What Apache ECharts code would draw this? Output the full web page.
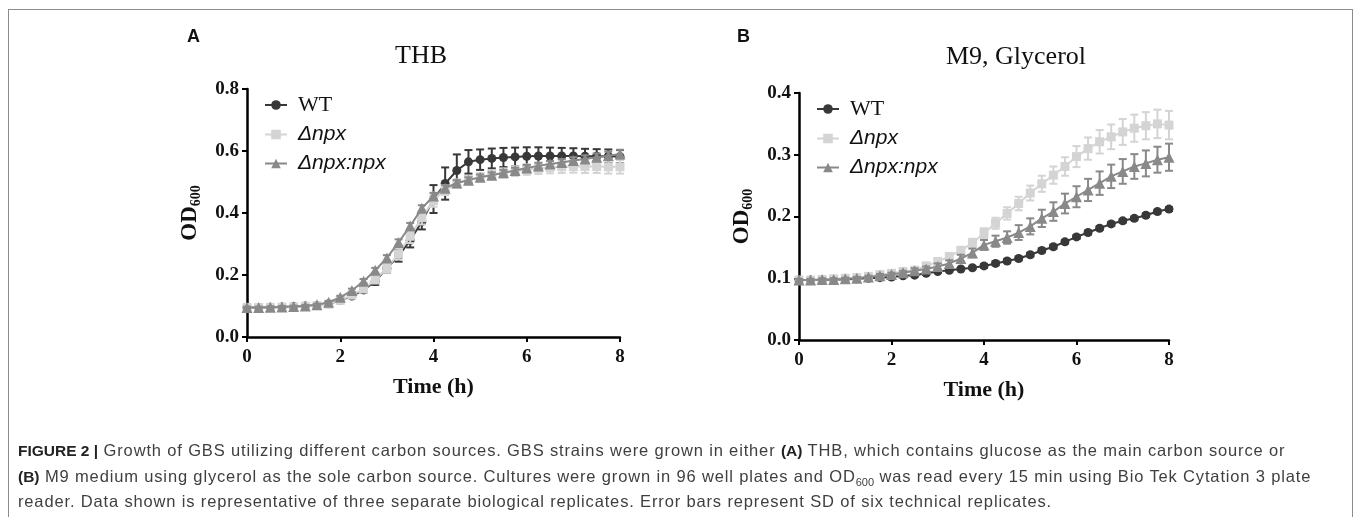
<!DOCTYPE html>
<html>
<head>
<meta charset="utf-8">
<title>Figure 2</title>
<script src="https://cdn.jsdelivr.net/npm/echarts@6/dist/echarts.min.js"></script>
<style>
    body{margin:0;background:#fff;}
    #wrap{position:relative;width:1358px;height:517px;overflow:hidden;}
    #frame{position:absolute;left:8px;top:9px;width:1345px;height:600px;border:1px solid #8c8c8c;box-sizing:border-box;}
    #chart{position:absolute;left:0;top:0;width:1358px;height:517px;}
    #caption{position:absolute;left:18px;top:438px;font-family:"Liberation Sans",Arial,sans-serif;font-size:16.5px;letter-spacing:0.85px;line-height:24.5px;color:#3f3f3f;white-space:nowrap;}
    #caption b{color:#222;font-size:15.5px;letter-spacing:0;}
    #caption sub{font-size:11px;line-height:0;letter-spacing:0;}
</style>
</head>
<body>
<div id="wrap">
    <div id="frame"></div>
    <div id="chart"></div>
    <div id="caption">
        <b>FIGURE 2 |</b> Growth of GBS utilizing different carbon sources. GBS strains were grown in either <b>(A)</b> THB, which contains glucose as the main carbon source or<br>
        <b>(B)</b> M9 medium using glycerol as the sole carbon source. Cultures were grown in 96 well plates and OD<sub>600</sub> was read every 15 min using Bio Tek Cytation 3 plate<br>
        reader. Data shown is representative of three separate biological replicates. Error bars represent SD of six technical replicates.
    </div>
</div>
<script>
// time points (h), read every 15 min
var times=[0,0.25,0.5,0.75,1,1.25,1.5,1.75,2,2.25,2.5,2.75,3,3.25,3.5,3.75,4,4.25,4.5,4.75,5,5.25,5.5,5.75,6,6.25,6.5,6.75,7,7.25,7.5,7.75,8];
var seriesNames=['WT','\u0394npx','\u0394npx:npx'];
var xTicks=[0,2,4,6,8];
var yTicksA=[0,0.2,0.4,0.6,0.8];
var yTicksB=[0,0.1,0.2,0.3,0.4];

// A - THB
var thbWT=[0.095,0.095,0.096,0.097,0.098,0.100,0.102,0.107,0.118,0.132,0.152,0.180,0.222,0.262,0.312,0.372,0.445,0.495,0.537,0.565,0.572,0.576,0.579,0.581,0.583,0.584,0.584,0.584,0.584,0.583,0.583,0.583,0.582];
var thbWTsd=[0.003,0.003,0.003,0.003,0.003,0.003,0.003,0.004,0.005,0.006,0.008,0.012,0.015,0.019,0.023,0.025,0.045,0.052,0.052,0.038,0.033,0.032,0.031,0.030,0.029,0.028,0.027,0.026,0.025,0.024,0.023,0.022,0.021];
var thbDel=[0.095,0.095,0.095,0.096,0.097,0.099,0.101,0.106,0.118,0.135,0.155,0.185,0.222,0.268,0.325,0.385,0.440,0.474,0.495,0.507,0.516,0.523,0.529,0.535,0.540,0.544,0.547,0.549,0.550,0.550,0.550,0.549,0.549];
var thbDelsd=[0.003,0.003,0.003,0.003,0.003,0.003,0.003,0.004,0.005,0.007,0.009,0.012,0.015,0.018,0.022,0.022,0.020,0.016,0.014,0.013,0.013,0.014,0.015,0.016,0.017,0.018,0.019,0.020,0.020,0.021,0.021,0.022,0.022];
var thbComp=[0.095,0.095,0.096,0.097,0.098,0.100,0.104,0.112,0.128,0.150,0.180,0.215,0.255,0.305,0.358,0.415,0.455,0.480,0.497,0.506,0.515,0.522,0.530,0.537,0.545,0.552,0.558,0.563,0.569,0.574,0.580,0.585,0.590];
var thbCompsd=[0.003,0.003,0.003,0.003,0.003,0.003,0.003,0.004,0.005,0.006,0.007,0.008,0.009,0.010,0.010,0.010,0.010,0.010,0.009,0.009,0.009,0.009,0.009,0.009,0.010,0.010,0.010,0.011,0.011,0.012,0.012,0.013,0.014];

// B - M9, Glycerol
var m9WT=[0.097,0.097,0.097,0.098,0.098,0.099,0.100,0.101,0.102,0.104,0.105,0.108,0.111,0.113,0.115,0.117,0.120,0.124,0.128,0.132,0.138,0.145,0.151,0.159,0.167,0.174,0.181,0.188,0.193,0.197,0.202,0.208,0.212];
var m9WTsd=[0.002,0.002,0.002,0.002,0.002,0.002,0.002,0.002,0.002,0.002,0.002,0.002,0.002,0.002,0.002,0.002,0.003,0.003,0.003,0.003,0.003,0.003,0.003,0.003,0.003,0.003,0.003,0.003,0.003,0.003,0.003,0.003,0.003];
var m9Del=[0.097,0.097,0.098,0.099,0.100,0.101,0.103,0.106,0.108,0.111,0.113,0.120,0.127,0.135,0.145,0.157,0.173,0.189,0.205,0.221,0.238,0.253,0.267,0.281,0.297,0.310,0.321,0.329,0.337,0.343,0.347,0.350,0.348];
var m9Delsd=[0.003,0.003,0.003,0.003,0.003,0.003,0.003,0.003,0.003,0.004,0.004,0.005,0.005,0.006,0.006,0.007,0.008,0.009,0.010,0.011,0.012,0.013,0.014,0.015,0.017,0.018,0.019,0.020,0.021,0.022,0.022,0.023,0.023];
var m9Comp=[0.097,0.097,0.098,0.098,0.099,0.100,0.102,0.104,0.106,0.109,0.112,0.115,0.119,0.124,0.132,0.141,0.154,0.160,0.166,0.174,0.184,0.197,0.208,0.221,0.232,0.243,0.254,0.265,0.273,0.281,0.286,0.292,0.296];
var m9Compsd=[0.002,0.002,0.002,0.002,0.002,0.002,0.002,0.003,0.003,0.003,0.004,0.004,0.005,0.005,0.006,0.007,0.008,0.009,0.010,0.012,0.013,0.014,0.015,0.016,0.017,0.018,0.019,0.019,0.020,0.020,0.021,0.021,0.022];

var colors=['#383838','#d4d4d4','#898989'];
var symbols=['circle','rect','triangle'];
var symbolSizes=[9,9,11];
var serifFont='"Liberation Serif","Times New Roman",serif';
var sansFont='"Liberation Sans",Arial,sans-serif';

function pairs(vals){
    var out=[];
    for(var i=0;i<times.length;i++){out.push([times[i],vals[i]]);}
    return out;
}
function bars(vals,sd){
    var out=[];
    for(var i=0;i<times.length;i++){out.push([times[i],vals[i]-sd[i],vals[i]+sd[i]]);}
    return out;
}
//误差线
function errorBarItem(params,api){
    var x=api.value(0);
    var lo=api.coord([x,api.value(1)]);
    var hi=api.coord([x,api.value(2)]);
    var hw=4;
    var st={stroke:api.visual('color'),lineWidth:2};
    return {
        type:'group',
        children:[
            {type:'line',shape:{x1:lo[0],y1:lo[1],x2:hi[0],y2:hi[1]},style:st},
            {type:'line',shape:{x1:hi[0]-hw,y1:hi[1],x2:hi[0]+hw,y2:hi[1]},style:st},
            {type:'line',shape:{x1:lo[0]-hw,y1:lo[1],x2:lo[0]+hw,y2:lo[1]},style:st}
        ]
    };
}

function panelSeries(idx,list){
    var s=[];
    for(var k=0;k<list.length;k++){
        s.push({
            name:seriesNames[k]+' sd',
            type:'custom',
            xAxisIndex:idx,yAxisIndex:idx,
            itemStyle:{color:colors[k]},
            renderItem:errorBarItem,
            encode:{x:0,y:[1,2]},
            data:bars(list[k][0],list[k][1]),
            z:2+k*2,
            silent:true
        });
        s.push({
            name:seriesNames[k],
            type:'line',
            xAxisIndex:idx,yAxisIndex:idx,
            data:pairs(list[k][0]),
            symbol:symbols[k],
            symbolSize:symbolSizes[k],
            showAllSymbol:true,
            itemStyle:{color:colors[k]},
            lineStyle:{color:colors[k],width:2},
            z:3+k*2,
            animation:false
        });
    }
    return s;
}

function xAxisOpt(idx){
    return {
        type:'value',gridIndex:idx,min:xTicks[0],max:xTicks[xTicks.length-1],interval:2,
        name:'Time (h)',nameLocation:'middle',nameGap:39,
        nameTextStyle:{fontFamily:serifFont,fontWeight:'bold',fontSize:22,color:'#111'},
        axisLine:{lineStyle:{color:'#000',width:2.5}},
        axisTick:{length:5,lineStyle:{color:'#000',width:2}},
        axisLabel:{margin:11,fontFamily:serifFont,fontWeight:'bold',fontSize:19,color:'#111'},
        splitLine:{show:false}
    };
}
function yAxisOpt(idx,ticks){
    return {
        type:'value',gridIndex:idx,min:0,max:ticks[ticks.length-1],interval:ticks[1],
        name:'{a|OD}{b|600}',nameLocation:'middle',nameGap:44,nameRotate:90,
        nameTextStyle:{rich:{
            a:{fontFamily:serifFont,fontWeight:'bold',fontSize:23,color:'#111',lineHeight:26},
            b:{fontFamily:serifFont,fontWeight:'bold',fontSize:14,color:'#111',lineHeight:26,verticalAlign:'bottom',padding:[8,0,0,0]}
        }},
        axisLine:{lineStyle:{color:'#000',width:2.5}},
        axisTick:{length:5,lineStyle:{color:'#000',width:2}},
        axisLabel:{margin:8,fontFamily:serifFont,fontWeight:'bold',fontSize:19,color:'#111',
            formatter:function(v){return v.toFixed(1);}},
        splitLine:{show:false}
    };
}
function legendOpt(left,top){
    return {
        orient:'vertical',left:left,top:top,
        itemWidth:22,itemHeight:12,itemGap:8,
        data:seriesNames,
        formatter:function(name){
            return name==='WT'?'{s|'+name+'}':'{i|'+name+'}';
        },
        textStyle:{rich:{
            s:{fontFamily:serifFont,fontSize:22,color:'#111',lineHeight:22,padding:[0,0,0,6]},
            i:{fontFamily:sansFont,fontStyle:'italic',fontSize:21,color:'#111',lineHeight:22,padding:[0,0,0,6]}
        }}
    };
}

var figure={
    option:{
        animation:false,
        backgroundColor:'transparent',
        grid:[
            {left:247,top:89,width:373,height:248},
            {left:799,top:93,width:370,height:247}
        ],
        xAxis:[xAxisOpt(0),xAxisOpt(1)],
        yAxis:[yAxisOpt(0,yTicksA),yAxisOpt(1,yTicksB)],
        legend:[legendOpt(259,89),legendOpt(811,93)],
        graphic:[
            {type:'text',left:187,top:28,style:{text:'A',fontFamily:sansFont,fontWeight:'bold',fontSize:18,fill:'#111'}},
            {type:'text',left:737,top:28,style:{text:'B',fontFamily:sansFont,fontWeight:'bold',fontSize:18,fill:'#111'}},
            {type:'text',x:421,y:56,style:{text:'THB',fontFamily:serifFont,fontSize:26,fill:'#111',textAlign:'center',textVerticalAlign:'middle'}},
            {type:'text',x:1016,y:57,style:{text:'M9, Glycerol',fontFamily:serifFont,fontSize:26,fill:'#111',textAlign:'center',textVerticalAlign:'middle'}}
        ],
        series:[]
    },
    render:function(){
        this.option.series=panelSeries(0,[[thbWT,thbWTsd],[thbDel,thbDelsd],[thbComp,thbCompsd]])
            .concat(panelSeries(1,[[m9WT,m9WTsd],[m9Del,m9Delsd],[m9Comp,m9Compsd]]));
        var c=echarts.init(document.getElementById('chart'));
        c.setOption(this.option);
    }
};
figure.render();
</script>
</body>
</html>
